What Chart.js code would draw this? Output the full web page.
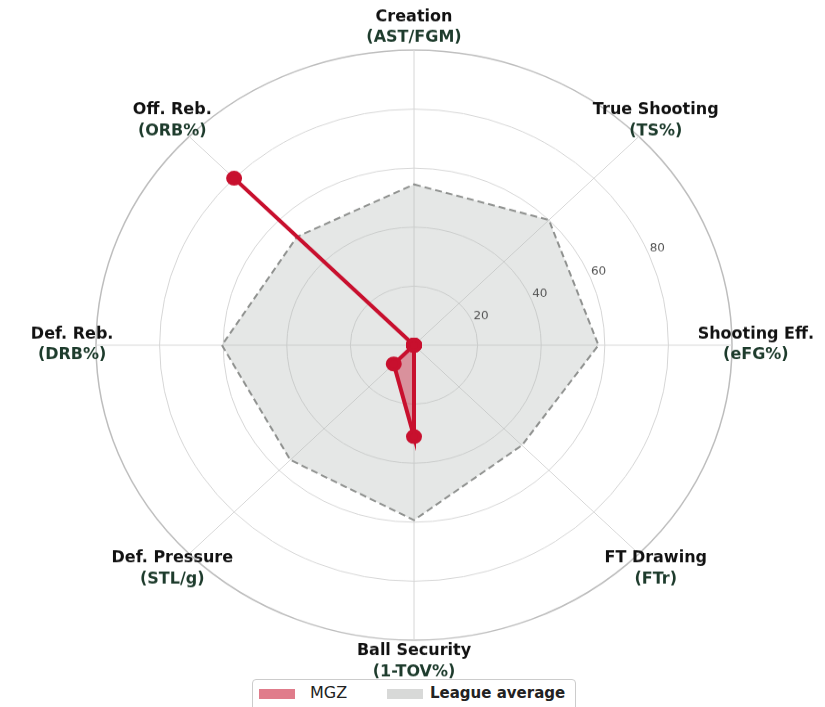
<!DOCTYPE html>
<html>
<head>
<meta charset="utf-8">
<script src="https://cdn.jsdelivr.net/npm/chart.js@4.4.1/dist/chart.umd.min.js"></script>
<style>
    html, body { margin: 0; padding: 0; background: #fff; overflow: hidden; }
    #contenedor { position: absolute; left: 0; top: 0; width: 825px; height: 762px; transform: scaleY(0.92782); transform-origin: 0 0; }
    #leyenda { position: absolute; left: 252px; top: 679px; width: 322px; height: 40px; border: 1px solid #ccc; border-radius: 4px; background: #fff; font-family: "DejaVu Sans", sans-serif; font-size: 16px; color: #222; }
    .muestra { position: absolute; top: 9px; width: 36px; height: 10px; }
    .texto { position: absolute; top: 3px; line-height: 20px; }
</style>
</head>
<body>
<div id="contenedor"><canvas id="chartRadar"></canvas></div>
<div id="leyenda">
    <div class="muestra" style="left:6px; background:#e07c8b;"></div>
    <div class="texto" style="left:57px;">MGZ</div>
    <div class="muestra" style="left:134px; background:#d8d9d8;"></div>
    <div class="texto" style="left:177px; font-weight:bold; font-size:15px;">League average</div>
</div>
<script>
const categorias = ["Creation", "True Shooting", "Shooting Eff.", "FT Drawing", "Ball Security", "Def. Pressure", "Def. Reb.", "Off. Reb."];
const subtitulos = ["(AST/FGM)", "(TS%)", "(eFG%)", "(FTr)", "(1-TOV%)", "(STL/g)", "(DRB%)", "(ORB%)"];
const valoresMGZ = [0, 0, 0, 0, 31, 9, 0, 80];
const valoresLiga = [54.5, 60, 58, 48, 59.3, 55, 60.4, 52];
const marcas = [20, 40, 60, 80];

const escalaY = 707 / 762;

// dibuja texto sin el aplastamiento vertical del contenedor
function escribir(ctx, texto, x, y) {
    ctx.save();
    ctx.translate(x, y);
    ctx.scale(1, 1 / escalaY);
    ctx.fillText(texto, 0, 0);
    ctx.restore();
}

const etiquetasPlugin = {
    id: "etiquetas",
    afterDraw(chart) {
        const r = chart.scales.r;
        const ctx = chart.ctx;
        ctx.save();
        ctx.textAlign = "center";
        ctx.textBaseline = "middle";

        // valores del eje radial
        const ang = -22.5 * Math.PI / 180;
        ctx.font = "12px 'DejaVu Sans'";
        ctx.fillStyle = "#555";
        marcas.forEach(v => {
            const d = r.getDistanceFromCenterForValue(v) + 9;
            escribir(ctx, String(v), r.xCenter + Math.cos(ang) * d, r.yCenter + Math.sin(ang) * d - 3 / escalaY);
        });

        // etiquetas de cada eje
        categorias.forEach((c, i) => {
            const p = r.getPointPosition(i, r.getDistanceFromCenterForValue(107.5));
            ctx.font = "bold 16px 'DejaVu Sans'";
            ctx.fillStyle = "#111";
            escribir(ctx, c, p.x, p.y - 11 / escalaY);
            ctx.fillStyle = "#1d3b2c";
            escribir(ctx, subtitulos[i], p.x, p.y + 10 / escalaY);
        });
        ctx.restore();
    }
};

document.addEventListener("DOMContentLoaded", function () {
    const ctx = document.getElementById("chartRadar").getContext("2d");
    new Chart(ctx, {
        type: "radar",
        data: {
            labels: categorias,
            datasets: [{
                label: "MGZ",
                data: valoresMGZ,
                backgroundColor: "rgba(200, 16, 46, 0.4)",
                borderColor: "#c8102e",
                borderWidth: 4,
                pointBackgroundColor: "#c8102e",
                pointBorderColor: "#c8102e",
                pointRadius: 6,
                fill: true
            }, {
                label: "League average",
                data: valoresLiga,
                backgroundColor: "rgba(180, 186, 183, 0.35)",
                borderColor: "#8f918f",
                borderWidth: 2,
                borderDash: [7, 4],
                pointRadius: 0,
                fill: true
            }]
        },
        options: {
            responsive: true,
            maintainAspectRatio: false,
            animation: false,
            layout: { padding: { left: 96, right: 93, top: 54, bottom: 72 } },
            plugins: {
                legend: { display: false },
                tooltip: { enabled: false }
            },
            elements: { line: { tension: 0 } },
            scales: {
                r: {
                    min: 0,
                    max: 100,
                    ticks: { stepSize: 20, display: false },
                    grid: {
                        circular: true,
                        color: c => c.tick && c.tick.value === 100 ? "#bdbdbd" : "#d6d6d6",
                        lineWidth: c => c.tick && c.tick.value === 100 ? 1.5 : 1
                    },
                    angleLines: { color: "#d6d6d6", lineWidth: 1 },
                    pointLabels: { display: false }
                }
            }
        },
        plugins: [etiquetasPlugin]
    });
});
</script>
</body>
</html>
